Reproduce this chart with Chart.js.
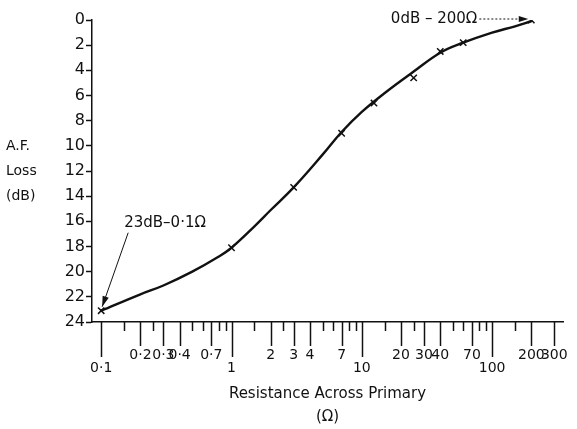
<!DOCTYPE html>
<html>
<head>
<meta charset="utf-8">
<script src="https://cdn.jsdelivr.net/npm/chart.js@4.4.1/dist/chart.umd.min.js"></script>
<style>
  html, body { margin: 0; padding: 0; background: #fff; }
  #wrap { width: 577px; height: 429px; position: relative; }
</style>
</head>
<body>
<div id="wrap"><canvas id="lossChart"></canvas></div>
<script>
// smooth curve (resistance in ohms, loss in dB)
const curveOhms = [0.1, 0.2, 0.3, 0.5, 0.8, 1, 1.5, 2, 3, 5, 7, 10, 15, 25, 40, 60, 100, 150, 200];
const curveLoss = [23.1, 21.8, 21.1, 20.0, 18.8, 18.1, 16.4, 15.1, 13.3, 10.7, 8.9, 7.3, 5.8, 4.1, 2.6, 1.8, 1.0, 0.5, 0.1];

// measured points (x marks)
const pointOhms = [0.1, 1, 3, 7, 12.4, 25, 40, 60, 200];
const pointLoss = [23.1, 18.1, 13.3, 9.0, 6.6, 4.6, 2.5, 1.8, 0];

// x scale ticks, as printed on the hand drawn scale
const xTicks = [0.1, 0.15, 0.2, 0.25, 0.3, 0.4, 0.5, 0.6, 0.7, 0.8, 0.9,
  1, 1.5, 2, 2.5, 3, 4, 5, 6, 7, 8, 9,
  10, 15, 20, 25, 30, 40, 50, 60, 70, 80, 90,
  100, 150, 200, 300];
const xLabelsUpper = { 0.2: '0·2', 0.3: '0·3', 0.4: '0·4', 0.7: '0·7', 2: '2', 3: '3', 4: '4', 7: '7',
  20: '20', 30: '30', 40: '40', 70: '70', 200: '200', 300: '300' };
const xLabelsLower = { 0.1: '0·1', 1: '1', 10: '10', 100: '100' };

const yTitle = ['A.F.', 'Loss', '(dB)'];
const xTitle = ['Resistance Across Primary', '(Ω)'];
const noteLow = '23dB–0·1Ω';
const noteHigh = '0dB – 200Ω';

const FONT = "'DejaVu Sans', sans-serif";
const INK = '#111';

function arrowHead(ctx, x0, y0, x1, y1, size) {
  const a = Math.atan2(y1 - y0, x1 - x0);
  ctx.beginPath();
  ctx.moveTo(x1, y1);
  ctx.lineTo(x1 - size * Math.cos(a - 0.3), y1 - size * Math.sin(a - 0.3));
  ctx.lineTo(x1 - size * Math.cos(a + 0.3), y1 - size * Math.sin(a + 0.3));
  ctx.closePath();
  ctx.fill();
}

const extras = {
  id: 'extras',
  afterDraw(chart) {
    const { ctx, scales: { x, y } } = chart;
    const axisY = y.bottom;
    ctx.save();
    ctx.strokeStyle = INK;
    ctx.fillStyle = INK;

    // tick marks under the x axis, long for labelled ones
    ctx.lineWidth = 1.5;
    xTicks.forEach(v => {
      const px = Math.round(x.getPixelForValue(v)) + 0.5;
      let len = 9;
      if (xLabelsLower[v]) len = 35;
      else if (xLabelsUpper[v]) len = 24;
      ctx.beginPath();
      ctx.moveTo(px, axisY);
      ctx.lineTo(px, axisY + len);
      ctx.stroke();
    });

    // horizontal y title
    ctx.font = `14px ${FONT}`;
    ctx.textAlign = 'left';
    ctx.textBaseline = 'middle';
    yTitle.forEach((t, i) => ctx.fillText(t, 6, 146 + i * 25));

    // 23dB note with arrow to the first point
    const tipX = x.getPixelForValue(0.1) + 1;
    const tipY = y.getPixelForValue(23.1) - 4;
    const fromX = tipX + 26, fromY = tipY - 74;
    ctx.lineWidth = 1;
    ctx.beginPath();
    ctx.moveTo(fromX, fromY);
    ctx.lineTo(tipX, tipY);
    ctx.stroke();
    arrowHead(ctx, fromX, fromY, tipX, tipY, 11);
    ctx.font = `15px ${FONT}`;
    ctx.fillText(noteLow, fromX - 4, fromY - 10);

    // 0dB note with dotted arrow to the last point
    const endX = x.getPixelForValue(200) - 3;
    const endY = y.getPixelForValue(0) - 1;
    ctx.textAlign = 'right';
    ctx.fillText(noteHigh, endX - 51, endY);
    ctx.setLineDash([2, 2]);
    ctx.beginPath();
    ctx.moveTo(endX - 49, endY);
    ctx.lineTo(endX - 4, endY);
    ctx.stroke();
    ctx.setLineDash([]);
    arrowHead(ctx, endX - 20, endY, endX, endY, 10);
    ctx.restore();
  }
};

new Chart(document.getElementById('lossChart'), {
  type: 'line',
  data: {
    datasets: [
      {
        label: 'Curve',
        data: curveOhms.map((v, i) => ({ x: v, y: curveLoss[i] })),
        borderColor: INK,
        borderWidth: 2.4,
        pointRadius: 0,
        tension: 0.4,
        fill: false
      },
      {
        label: 'Measured',
        data: pointOhms.map((v, i) => ({ x: v, y: pointLoss[i] })),
        showLine: false,
        pointStyle: 'crossRot',
        pointRadius: 4.5,
        pointBorderWidth: 1.5,
        pointBorderColor: INK,
        pointBackgroundColor: INK
      }
    ]
  },
  plugins: [extras],
  options: {
    responsive: true,
    maintainAspectRatio: false,
    animation: false,
    layout: { padding: { top: 20, right: 14, left: 0, bottom: 0 } },
    plugins: { legend: { display: false }, tooltip: { enabled: false } },
    scales: {
      x: {
        type: 'logarithmic',
        min: 0.085,
        max: 350,
        afterBuildTicks: scale => { scale.ticks = xTicks.map(v => ({ value: v })); },
        afterFit: scale => {
          scale.height = 107;
          scale.paddingLeft = 0;
          scale.paddingRight = 0;
        },
        grid: { display: false },
        border: { display: true, color: INK, width: 1.5 },
        ticks: {
          autoSkip: false,
          maxRotation: 0,
          padding: 19,
          color: INK,
          font: { family: FONT, size: 14, lineHeight: 0.9 },
          callback: v => {
            if (xLabelsLower[v]) return ['', xLabelsLower[v]];
            return xLabelsUpper[v] || '';
          }
        },
        title: {
          display: true,
          text: xTitle,
          color: INK,
          font: { family: FONT, size: 15, lineHeight: 1.53 },
          padding: { top: 0, bottom: 0 }
        }
      },
      y: {
        reverse: true,
        min: 0,
        max: 24,
        afterFit: scale => { scale.width = 92; },
        grid: { drawOnChartArea: false, tickLength: 6, tickColor: INK, tickWidth: 1.5 },
        border: { display: true, color: INK, width: 1.5 },
        ticks: {
          stepSize: 2,
          padding: 1,
          color: INK,
          font: { family: FONT, size: 16 }
        }
      }
    }
  }
});
</script>
</body>
</html>
